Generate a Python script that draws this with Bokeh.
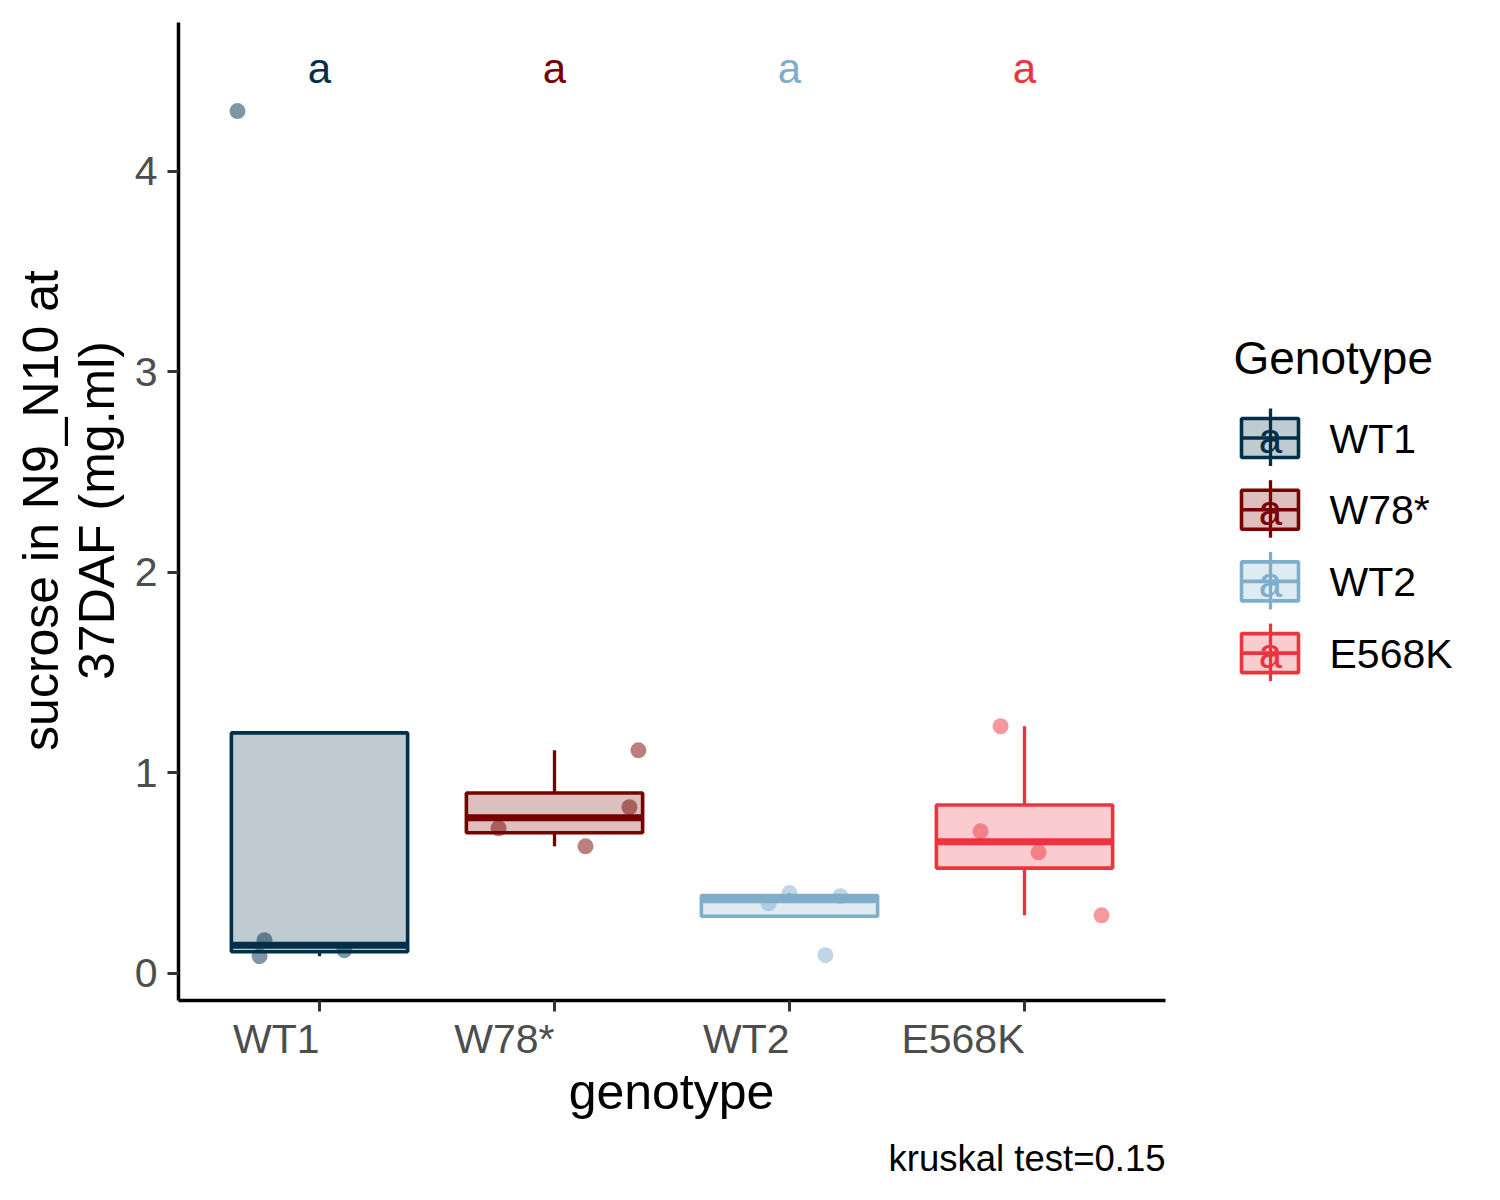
import numpy as np
from bokeh.plotting import figure
from bokeh.models import Range1d, FixedTicker, Label
from bokeh.embed import file_html
from bokeh.resources import INLINE
from bokeh.core.properties import value

# ---------------- data ----------------
genotypes = ["WT1", "W78*", "WT2", "E568K"]
colors = ["#003049", "#780000", "#7FAECA", "#EC3340"]
sig_letters = ["a", "a", "a", "a"]
letter_y = 4.44

wt1_values = [0.085, 0.165, 0.115, 4.30]
w78_values = [1.112, 0.828, 0.723, 0.633]
wt2_values = [0.400, 0.384, 0.349, 0.090]
e568k_values = [1.232, 0.708, 0.603, 0.289]

wt1_jitter = [-0.255, -0.234, 0.106, -0.349]
w78_jitter = [0.357, 0.319, -0.238, 0.132]
wt2_jitter = [0.000, 0.217, -0.089, 0.153]
e568k_jitter = [-0.102, -0.187, 0.060, 0.328]

y_ticks = [0, 1, 2, 3, 4]
x_title = "genotype"
y_title_lines = ["sucrose in N9_N10 at", "37DAF (mg.ml)"]
legend_title = "Genotype"
caption = "kruskal test=0.15"

groups = [wt1_values, w78_values, wt2_values, e568k_values]
jitters = [wt1_jitter, w78_jitter, wt2_jitter, e568k_jitter]

FONT = "Liberation Sans"
X0, X1 = 0.4, 4.6          # panel data range
Y0, Y1 = -0.136, 4.742
PL, PR, PT, PB = 178, 1165, 22, 1000  # panel edges in page pixels
OFF = 0                    # observed page offset
W, H = 1484, 1184
BASE_FIX = 0.34            # baseline correction (em)

KX = (X1 - X0) / (PR - PL)   # data units per pixel
KY = (Y1 - Y0) / (PB - PT)


def px_to_x(px):
    return X0 + (px - PL) * KX


def py_to_y(py):
    return Y0 + (PB - py) * KY


def base_y(py, size):
    """data y for a text baseline wanted at page pixel py"""
    return py_to_y(py - BASE_FIX * size)


p = figure(width=W, height=H,
           x_range=Range1d(px_to_x(OFF), px_to_x(OFF + W)),
           y_range=Range1d(py_to_y(OFF + H), py_to_y(OFF)),
           output_backend="svg", toolbar_location=None, min_border=0)
p.xgrid.visible = False
p.ygrid.visible = False
p.outline_line_color = None
p.background_fill_color = "white"
p.border_fill_color = "white"

p.yaxis.fixed_location = X0
p.yaxis.bounds = (Y0, Y1)
p.xaxis.fixed_location = Y0
p.xaxis.bounds = (X0, X1)

for ax in (p.xaxis[0], p.yaxis[0]):
    ax.axis_line_width = 3.5
    ax.axis_line_color = "black"
    ax.major_tick_line_width = 3
    ax.major_tick_line_color = "#333333"
    ax.major_tick_out = 11
    ax.major_tick_in = 0
    ax.minor_tick_line_color = None
    ax.major_label_text_font = FONT
    ax.major_label_text_font_size = "41px"
    ax.major_label_text_color = "#4D4D4D"
    ax.major_label_standoff = 10

p.yaxis.ticker = FixedTicker(ticks=y_ticks, minor_ticks=[])
p.xaxis.ticker = FixedTicker(ticks=[1, 2, 3, 4], minor_ticks=[])
p.xaxis.major_label_overrides = {1: "", 2: "", 3: "", 4: ""}

BOX_W = 0.75
for i, (vals, jit, col) in enumerate(zip(groups, jitters, colors)):
    pos = i + 1
    v = np.array(vals, dtype=float)
    q1, med, q3 = np.percentile(v, [25, 50, 75])
    iqr = q3 - q1
    inside = v[(v >= q1 - 1.5 * iqr) & (v <= q3 + 1.5 * iqr)]
    lo = min(q1, inside.min())
    hi = max(q3, inside.max())
    if hi > q3:
        p.segment(x0=[pos], y0=[q3], x1=[pos], y1=[hi], line_color=col, line_width=3.3)
    if lo < q1:
        p.segment(x0=[pos], y0=[q1], x1=[pos], y1=[lo], line_color=col, line_width=3.3)
    p.quad(left=[pos - BOX_W / 2], right=[pos + BOX_W / 2], bottom=[q1], top=[q3],
           fill_color=col, fill_alpha=0.25, line_color=col, line_width=3.6)
    p.segment(x0=[pos - BOX_W / 2], y0=[med], x1=[pos + BOX_W / 2], y1=[med],
              line_color=col, line_width=7)
    p.scatter(x=pos + np.array(jit), y=v, size=16, fill_color=col, fill_alpha=0.5,
              line_color=None)

# significance letters (baseline corrected for the renderer)
p.text(x=[1, 2, 3, 4], y=[letter_y + BASE_FIX * 42 * KY] * 4, text=sig_letters,
       text_color=colors, text_font=value(FONT), text_font_size="42px",
       text_align="center", text_baseline="alphabetic")

# x category labels, right-justified at their ticks
p.text(x=[1, 2, 3, 4], y=[base_y(1052, 41)] * 4, text=genotypes, text_color="#4D4D4D",
       text_font=value(FONT), text_font_size="41px", text_align="right",
       text_baseline="alphabetic")

p.add_layout(Label(x=px_to_x(671), y=base_y(1108, 50), text=x_title, text_align="center",
                   text_baseline="alphabetic", text_font=FONT, text_font_size="50px",
                   text_color="black"))
p.add_layout(Label(x=X1, y=base_y(1170, 36.5), text=caption, text_align="right",
                   text_baseline="alphabetic", text_font=FONT, text_font_size="36.5px",
                   text_color="black"))
for line, bx in zip(y_title_lines, [57, 113]):
    p.add_layout(Label(x=px_to_x(bx - BASE_FIX * 50), y=py_to_y(510), text=line,
                       angle=np.pi / 2, text_align="center", text_baseline="alphabetic",
                       text_font=FONT, text_font_size="50px", text_color="black"))

# ---------------- legend ----------------
n = len(genotypes)
key_cy = 437.5 + 71.7 * np.arange(n)          # page pixels
cy = py_to_y(key_cy)
kl, kr, kx = px_to_x(1241), px_to_x(1298), px_to_x(1270)
p.segment(x0=[kx] * n, y0=py_to_y(key_cy - 29.5), x1=[kx] * n, y1=py_to_y(key_cy + 28),
          line_color=colors, line_width=3.3)
p.quad(left=[kl] * n, right=[kr] * n, top=py_to_y(key_cy - 19.5),
       bottom=py_to_y(key_cy + 19.5), fill_color=colors, fill_alpha=0.25,
       line_color=colors, line_width=3.6)
p.segment(x0=[kl] * n, y0=cy, x1=[kr] * n, y1=cy, line_color=colors, line_width=3.6)
p.text(x=[kx] * n, y=base_y(key_cy + 15, 42), text=sig_letters, text_color=colors,
       text_font=value(FONT), text_font_size="42px", text_align="center",
       text_baseline="alphabetic")
p.text(x=[px_to_x(1329)] * n, y=base_y(key_cy + 14.5, 41), text=genotypes,
       text_color="black", text_font=value(FONT), text_font_size="41px",
       text_align="left", text_baseline="alphabetic")
p.text(x=[px_to_x(1233)], y=[base_y(373, 46)], text=[legend_title], text_color="black",
       text_font=value(FONT), text_font_size="46px", text_align="left",
       text_baseline="alphabetic")

open("out.html", "w").write(file_html(p, INLINE))
